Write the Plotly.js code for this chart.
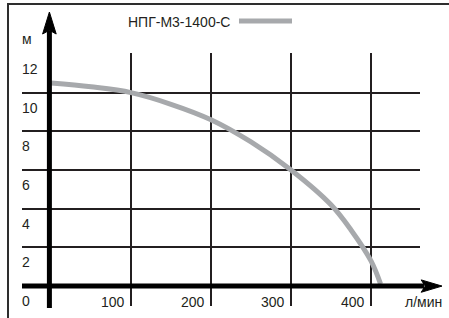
<!DOCTYPE html>
<html>
<head>
<meta charset="utf-8">
<script src="https://cdn.plot.ly/plotly-3.0.1.min.js"></script>
<style>
html,body{margin:0;padding:0;background:#fff;}
#wrap{position:relative;width:449px;height:318px;overflow:hidden;}
#chart{width:449px;height:318px;}
#frame{position:absolute;left:7px;top:3px;width:460px;height:340px;
  border-left:2px solid #2e2e2e;border-top:2px solid #2e2e2e;pointer-events:none;z-index:10;}
</style>
</head>
<body>
<div id="wrap">
<div id="chart"></div>
<div id="frame"></div>
</div>
<script>
// ---- data ----
const seriesName = 'НПГ-М3-1400-С';
const flow = [0, 50, 100, 150, 200, 250, 300, 350, 375, 400, 412];          // л/мин
const head = [10.5, 10.3, 10.0, 9.4, 8.6, 7.45, 6.0, 4.2, 2.9, 1.3, 0.1];   // м
const xTicks = [100, 200, 300, 400];
const yTicks = [2, 4, 6, 8, 10, 12];
const xUnit = 'л/мин';
const yUnit = 'м';

// ---- styles ----
const ink = '#231f20';
const gray = '#a7a9ac';
const font = {family: 'Arial, "Liberation Sans", sans-serif', size: 14, color: ink};

const annotations = [];
[0].concat(yTicks).forEach(v => {
  annotations.push({xref: 'paper', x: 0, xanchor: 'left', xshift: -2,
    yref: 'y', y: v, yanchor: 'middle', yshift: -15,
    text: String(v), showarrow: false, font: font});
});
xTicks.forEach(v => {
  annotations.push({xref: 'x', x: v, xanchor: 'right', xshift: -4,
    yref: 'paper', y: 0, yanchor: 'middle', yshift: 4,
    text: String(v), showarrow: false, font: font});
});
annotations.push({xref: 'paper', x: 1.0553, xanchor: 'right', xshift: 2,
  yref: 'paper', y: 0, yanchor: 'middle', yshift: 4,
  text: xUnit, showarrow: false, font: font});
annotations.push({xref: 'paper', x: 0, xanchor: 'left', xshift: -2,
  yref: 'paper', y: 1.0553, yanchor: 'middle',
  text: yUnit, showarrow: false, font: font});
annotations.push({xref: 'paper', x: 0.2663, xanchor: 'left', xshift: -2,
  yref: 'paper', y: 1.1225, yanchor: 'middle',
  text: seriesName, showarrow: false, font: font});

const shapes = [
  // legend line
  {type: 'line', xref: 'paper', yref: 'paper', x0: 0.5452, x1: 0.6784, y0: 1.126, y1: 1.126,
   line: {color: gray, width: 5}},
  // y axis shaft
  {type: 'line', xref: 'x', yref: 'paper', x0: -2, x1: -2, y0: -0.008, y1: 1.09,
   line: {color: '#000', width: 5}, layer: 'above'},
  // y axis arrow head
  {type: 'path', xref: 'x', yref: 'paper',
   path: 'M -10.5,1.075 L -2,1.162 L 6.5,1.075 L -2,1.09 Z',
   fillcolor: '#000', line: {color: '#000', width: 1}, layer: 'above'},
  // x axis shaft
  {type: 'line', xref: 'paper', yref: 'y', x0: 0, x1: 1.01, y0: 0, y1: 0,
   line: {color: '#000', width: 5}, layer: 'above'},
  // x axis arrow head
  {type: 'path', xref: 'paper', yref: 'y',
   path: 'M 1.003,0.32 L 1.0553,0 L 1.003,-0.32 L 1.013,0 Z',
   fillcolor: '#000', line: {color: '#000', width: 1}, layer: 'above'}
];

const trace = {
  x: flow, y: head, name: seriesName, type: 'scatter', mode: 'lines',
  line: {color: gray, width: 5, shape: 'spline', smoothing: 1},
  hoverinfo: 'skip', showlegend: false
};

const layout = {
  width: 449, height: 318,
  margin: {l: 22, r: 29, t: 53, b: 12, pad: 0},
  paper_bgcolor: '#fff', plot_bgcolor: '#fff',
  showlegend: false,
  xaxis: {range: [-36.25, 461.25], tickmode: 'array', tickvals: xTicks,
    showgrid: true, gridcolor: ink, gridwidth: 2, zeroline: false,
    showticklabels: false, ticks: '', showline: false, fixedrange: true},
  yaxis: {range: [-1.03, 12.05], tickmode: 'array', tickvals: yTicks,
    showgrid: true, gridcolor: ink, gridwidth: 2, zeroline: false,
    showticklabels: false, ticks: '', showline: false, fixedrange: true},
  annotations: annotations,
  shapes: shapes,
  font: font
};

Plotly.newPlot('chart', [trace], layout, {staticPlot: true, displayModeBar: false});
</script>
</body>
</html>
